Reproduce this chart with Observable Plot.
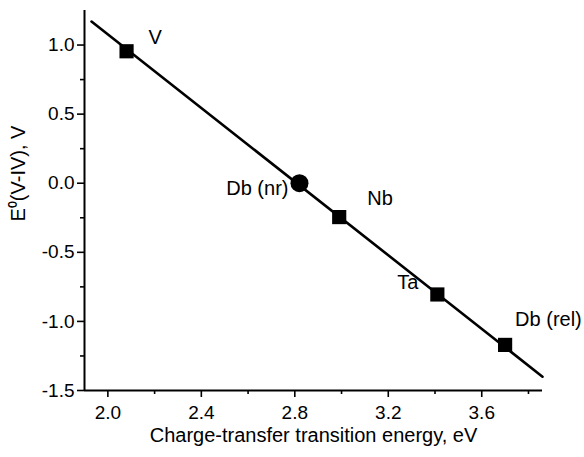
<!DOCTYPE html>
<html>
<head>
<meta charset="utf-8">
<script src="https://cdn.jsdelivr.net/npm/d3@7"></script>
<script src="https://cdn.jsdelivr.net/npm/@observablehq/plot@0.6"></script>
<style>
  html, body { margin: 0; padding: 0; background: #fff; }
  svg { font-family: "Liberation Sans", Arial, sans-serif; }
</style>
</head>
<body>
<div id="chart"></div>
<script>
// Data
const elements = ["V", "Db (nr)", "Nb", "Ta", "Db (rel)"];
const energy = [2.08, 2.82, 2.99, 3.41, 3.70];
const potential = [0.955, 0.0, -0.245, -0.805, -1.17];
const markerShape = ["square", "circle", "square", "square", "square"];
const fitX = [1.93, 3.86];
const fitY = [1.17, -1.40];
const xMajorTicks = [2.0, 2.4, 2.8, 3.2, 3.6];
const xMinorTicks = [2.2, 2.6, 3.0, 3.4, 3.8];
const yMajorTicks = [-1.5, -1.0, -0.5, 0.0, 0.5, 1.0];
const yMinorTicks = [-1.25, -0.75, -0.25, 0.25, 0.75];
const xDomain = [1.90, 3.86];
const yDomain = [-1.5, 1.25];

const points = elements.map((e, i) => ({ name: e, x: energy[i], y: potential[i], shape: markerShape[i] }));
const fit = fitX.map((x, i) => ({ x, y: fitY[i] }));
const squares = points.filter(d => d.shape === "square");
const circles = points.filter(d => d.shape === "circle");
const fmt = d => d.toFixed(1); // plain hyphen-minus like the reference

// label offsets (style only)
const labelOffsets = {
  "V": { dx: 22, dy: -14, anchor: "start" },
  "Db (nr)": { dx: -11, dy: 5, anchor: "end" },
  "Nb": { dx: 28, dy: -18, anchor: "start" },
  "Ta": { dx: -19, dy: -12, anchor: "end" },
  "Db (rel)": { dx: 10, dy: -25, anchor: "start" }
};

const tickFont = 19;
const labelFont = 20;
const chart = Plot.plot({
  width: 584,
  height: 457,
  marginLeft: 84,
  marginRight: 42,
  marginTop: 10,
  marginBottom: 67,
  style: { fontFamily: "Liberation Sans, Arial, sans-serif", fontSize: tickFont + "px", color: "#000", background: "#fff" },
  x: { domain: xDomain, axis: null, label: null },
  y: { domain: yDomain, axis: null, label: null },
  marks: [
    Plot.axisX({ ticks: xMinorTicks, tickSize: 4, text: null, strokeWidth: 1.6, label: null }),
    Plot.axisX({ ticks: xMajorTicks, tickSize: 7, text: null, strokeWidth: 1.6, label: null }),
    Plot.axisY({ ticks: yMinorTicks, tickSize: 4, text: null, strokeWidth: 1.6, label: null }),
    Plot.axisY({ ticks: yMajorTicks, tickSize: 7, text: null, strokeWidth: 1.6, label: null }),
    Plot.text(xMajorTicks, { x: d => d, y: yDomain[0], text: d => fmt(d), dy: 22, fontSize: tickFont, fill: "#000" }),
    Plot.text(yMajorTicks, { x: xDomain[0], y: d => d, text: d => fmt(d), dx: -10, textAnchor: "end", fontSize: tickFont, fill: "#000" }),
    Plot.ruleX([xDomain[0]], { y1: yDomain[0], y2: yDomain[1], strokeWidth: 2 }),
    Plot.ruleY([yDomain[0]], { x1: xDomain[0], x2: xDomain[1], strokeWidth: 2 }),
    Plot.line(fit, { x: "x", y: "y", stroke: "#000", strokeWidth: 2.6 }),
    Plot.dot(squares, { x: "x", y: "y", symbol: "square", r: 8, fill: "#000", stroke: "none" }),
    Plot.dot(circles, { x: "x", y: "y", symbol: "circle", r: 9, fill: "#000", stroke: "none" }),
    ...points.map(p => Plot.text([p], {
      x: "x", y: "y", text: "name",
      dx: labelOffsets[p.name].dx, dy: labelOffsets[p.name].dy,
      textAnchor: labelOffsets[p.name].anchor, fontSize: labelFont, fill: "#000"
    })),
    Plot.text(["Charge-transfer transition energy, eV"], {
      frameAnchor: "bottom", dy: 51, fontSize: labelFont, fill: "#000"
    }),
    Plot.text(["E⁰(V-IV), V"], {
      frameAnchor: "left", dx: -66, dy: 21, rotate: -90, fontSize: labelFont, fill: "#000"
    })
  ]
});
document.getElementById("chart").appendChild(chart);
</script>
</body>
</html>
